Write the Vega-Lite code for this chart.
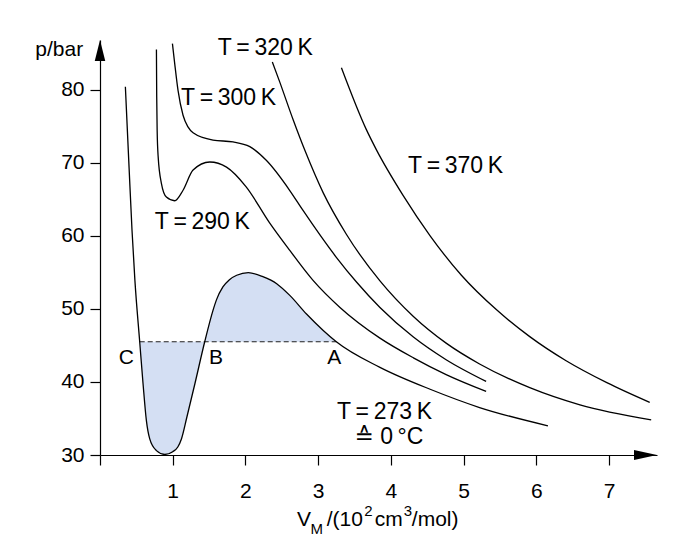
{
  "$schema": "https://vega.github.io/schema/vega-lite/v6.json",
  "width": 557,
  "height": 415,
  "autosize": {"type": "none"},
  "padding": {"left": 100, "top": 40, "right": 27, "bottom": 100},
  "background": "white",
  "config": {"view": {"stroke": null}, "font": "Liberation Sans, DejaVu Sans, sans-serif"},
  "datasets": {
    "curves": [
      {"T": 273, "V": 0.349, "p": 80.4}, {"T": 273, "V": 0.40, "p": 69.3}, {"T": 273, "V": 0.44, "p": 60.8}, {"T": 273, "V": 0.48, "p": 53.9}, {"T": 273, "V": 0.546, "p": 45.5}, {"T": 273, "V": 0.592, "p": 39.75}, {"T": 273, "V": 0.638, "p": 34.7}, {"T": 273, "V": 0.684, "p": 32.2}, {"T": 273, "V": 0.776, "p": 30.6}, {"T": 273, "V": 0.89, "p": 30.07}, {"T": 273, "V": 1.0, "p": 30.45}, {"T": 273, "V": 1.07, "p": 31.1}, {"T": 273, "V": 1.12, "p": 32.2}, {"T": 273, "V": 1.195, "p": 35.2}, {"T": 273, "V": 1.305, "p": 39.75}, {"T": 273, "V": 1.44, "p": 45.5}, {"T": 273, "V": 1.554, "p": 49.8}, {"T": 273, "V": 1.60, "p": 51.2}, {"T": 273, "V": 1.69, "p": 53.0}, {"T": 273, "V": 1.78, "p": 54.0}, {"T": 273, "V": 1.88, "p": 54.6}, {"T": 273, "V": 2.04, "p": 54.96}, {"T": 273, "V": 2.24, "p": 54.4}, {"T": 273, "V": 2.43, "p": 53.45}, {"T": 273, "V": 2.61, "p": 51.85}, {"T": 273, "V": 2.84, "p": 49.3}, {"T": 273, "V": 3.07, "p": 47.05}, {"T": 273, "V": 3.25, "p": 45.5}, {"T": 273, "V": 3.85, "p": 42.0}, {"T": 273, "V": 4.54, "p": 39.0}, {"T": 273, "V": 5.22, "p": 36.5}, {"T": 273, "V": 6.16, "p": 34.0},
      {"T": 290, "V": 0.776, "p": 85.5}, {"T": 290, "V": 0.780, "p": 79.0}, {"T": 290, "V": 0.786, "p": 74.4}, {"T": 290, "V": 0.80, "p": 70.8}, {"T": 290, "V": 0.845, "p": 67.15}, {"T": 290, "V": 0.913, "p": 65.3}, {"T": 290, "V": 1.027, "p": 64.8}, {"T": 290, "V": 1.14, "p": 66.2}, {"T": 290, "V": 1.28, "p": 69.0}, {"T": 290, "V": 1.51, "p": 70.1}, {"T": 290, "V": 1.74, "p": 69.4}, {"T": 290, "V": 2.01, "p": 66.7}, {"T": 290, "V": 2.33, "p": 61.8}, {"T": 290, "V": 2.61, "p": 58.0}, {"T": 290, "V": 2.93, "p": 53.9}, {"T": 290, "V": 3.3, "p": 50.2}, {"T": 290, "V": 3.85, "p": 46.0}, {"T": 290, "V": 4.31, "p": 43.3}, {"T": 290, "V": 4.76, "p": 41.0}, {"T": 290, "V": 5.31, "p": 38.7},
      {"T": 300, "V": 0.996, "p": 86.3}, {"T": 300, "V": 1.027, "p": 83.6}, {"T": 300, "V": 1.073, "p": 79.9}, {"T": 300, "V": 1.142, "p": 76.5}, {"T": 300, "V": 1.21, "p": 74.9}, {"T": 300, "V": 1.28, "p": 74.1}, {"T": 300, "V": 1.554, "p": 73.1}, {"T": 300, "V": 1.83, "p": 72.85}, {"T": 300, "V": 2.06, "p": 72.2}, {"T": 300, "V": 2.29, "p": 70.3}, {"T": 300, "V": 2.61, "p": 66.2}, {"T": 300, "V": 2.79, "p": 63.5}, {"T": 300, "V": 3.25, "p": 57.06}, {"T": 300, "V": 3.53, "p": 53.64}, {"T": 300, "V": 3.85, "p": 50.19}, {"T": 300, "V": 4.31, "p": 46.14}, {"T": 300, "V": 4.76, "p": 43.04}, {"T": 300, "V": 5.31, "p": 40.07},
      {"T": 320, "V": 2.37, "p": 83.8}, {"T": 320, "V": 2.47, "p": 81.1}, {"T": 320, "V": 2.655, "p": 75.92}, {"T": 320, "V": 2.82, "p": 71.63}, {"T": 320, "V": 3.07, "p": 65.88}, {"T": 320, "V": 3.39, "p": 60.18}, {"T": 320, "V": 3.85, "p": 53.83}, {"T": 320, "V": 4.31, "p": 48.96}, {"T": 320, "V": 4.76, "p": 45.31}, {"T": 320, "V": 5.22, "p": 42.46}, {"T": 320, "V": 5.91, "p": 39.22}, {"T": 320, "V": 6.60, "p": 36.87}, {"T": 320, "V": 7.58, "p": 34.81},
      {"T": 370, "V": 3.32, "p": 83.0}, {"T": 370, "V": 3.66, "p": 74.6}, {"T": 370, "V": 3.80, "p": 71.8}, {"T": 370, "V": 4.17, "p": 65.5}, {"T": 370, "V": 4.54, "p": 60.0}, {"T": 370, "V": 4.97, "p": 54.6}, {"T": 370, "V": 5.45, "p": 49.9}, {"T": 370, "V": 5.91, "p": 46.2}, {"T": 370, "V": 6.41, "p": 42.9}, {"T": 370, "V": 6.97, "p": 39.9}, {"T": 370, "V": 7.56, "p": 37.2}
    ],
    "tie": [{"V": 0.546, "p": 45.5}, {"V": 3.25, "p": 45.5}],
    "labels": [
      {"label": "T\u2009=\u2009320\u2009K", "V": 2.272, "p": 84.73},
      {"label": "T\u2009=\u2009300\u2009K", "V": 1.768, "p": 77.88},
      {"label": "T\u2009=\u2009290\u2009K", "V": 1.406, "p": 60.99},
      {"label": "T\u2009=\u2009370\u2009K", "V": 4.89, "p": 68.6},
      {"label": "T\u2009=\u2009273\u2009K", "V": 3.912, "p": 34.96},
      {"label": "\u2259 0\u2009\u00b0C", "V": 3.974, "p": 31.44}
    ],
    "points": [
      {"label": "C", "V": 0.363, "p": 42.49},
      {"label": "B", "V": 1.596, "p": 42.49},
      {"label": "A", "V": 3.22, "p": 42.4}
    ],
    "ylabel": [{"label": "p/bar", "V": -0.231, "p": 84.59}],
    "xtitle_big": [
      {"label": "V", "V": 2.71, "p": 20.34},
      {"label": "/(10", "V": 3.118, "p": 20.34},
      {"label": "cm", "V": 3.779, "p": 20.34},
      {"label": "/mol)", "V": 4.288, "p": 20.34}
    ],
    "xtitle_small": [
      {"label": "M", "V": 2.895, "p": 19.25},
      {"label": "2", "V": 3.634, "p": 21.7},
      {"label": "3", "V": 4.178, "p": 21.7}
    ],
    "yarrow": [{"V": 0, "p": 86.8}],
    "xarrow": [{"V": 7.66, "p": 30}]
  },
  "encoding": {
    "x": {
      "field": "V", "type": "quantitative",
      "scale": {"domain": [0, 7.66], "nice": false, "zero": false},
      "axis": {
        "values": [0, 1, 2, 3, 4, 5, 6, 7],
        "labelExpr": "datum.value == 0 ? '' : datum.label",
        "title": null, "grid": false, "tickSize": 10, "tickWidth": 1.2, "domainWidth": 1.2,
        "tickColor": "black", "domainColor": "black", "labelColor": "black",
        "labelFont": "Liberation Sans", "labelFontSize": 21, "labelPadding": 15,
        "labelFlush": false, "labelOverlap": false
      }
    },
    "y": {
      "field": "p", "type": "quantitative",
      "scale": {"domain": [30, 86.8], "nice": false, "zero": false},
      "axis": {
        "values": [30, 40, 50, 60, 70, 80],
        "title": null, "grid": false, "tickSize": 10, "tickWidth": 1.2, "domainWidth": 1.2,
        "tickColor": "black", "domainColor": "black", "labelColor": "black",
        "labelFont": "Liberation Sans", "labelFontSize": 21, "labelPadding": 6,
        "labelFlush": false, "labelOverlap": false
      }
    }
  },
  "layer": [
    {
      "data": {"name": "curves"},
      "transform": [{"filter": "datum.T == 273 && datum.V >= 0.546 && datum.V <= 3.25"}],
      "mark": {"type": "area", "interpolate": "monotone", "color": "#d4dff3", "opacity": 1},
      "encoding": {"y2": {"datum": 45.5}}
    },
    {
      "data": {"name": "tie"},
      "mark": {"type": "line", "color": "#222222", "strokeWidth": 1.1, "strokeDash": [5, 3]},
      "encoding": {}
    },
    {
      "data": {"name": "curves"},
      "mark": {"type": "line", "interpolate": "monotone", "color": "black", "strokeWidth": 1.3},
      "encoding": {"detail": {"field": "T", "type": "nominal"}}
    },
    {
      "data": {"name": "labels"},
      "mark": {"type": "text", "font": "Liberation Sans, DejaVu Sans", "fontSize": 23, "align": "center", "baseline": "alphabetic", "color": "black"},
      "encoding": {"text": {"field": "label"}}
    },
    {
      "data": {"name": "points"},
      "mark": {"type": "text", "font": "Liberation Sans", "fontSize": 21, "align": "center", "baseline": "alphabetic", "color": "black"},
      "encoding": {"text": {"field": "label"}}
    },
    {
      "data": {"name": "ylabel"},
      "mark": {"type": "text", "font": "Liberation Sans", "fontSize": 21, "align": "right", "baseline": "alphabetic", "color": "black"},
      "encoding": {"text": {"field": "label"}}
    },
    {
      "data": {"name": "xtitle_big"},
      "mark": {"type": "text", "font": "Liberation Sans", "fontSize": 21, "align": "left", "baseline": "alphabetic", "color": "black"},
      "encoding": {"text": {"field": "label"}}
    },
    {
      "data": {"name": "xtitle_small"},
      "mark": {"type": "text", "font": "Liberation Sans", "fontSize": 15, "align": "left", "baseline": "alphabetic", "color": "black"},
      "encoding": {"text": {"field": "label"}}
    },
    {
      "data": {"name": "yarrow"},
      "mark": {"type": "point", "shape": "M0,0L0.25,1L-0.25,1Z", "size": 1764, "filled": true, "color": "black", "opacity": 1},
      "encoding": {}
    },
    {
      "data": {"name": "xarrow"},
      "mark": {"type": "point", "shape": "M0,0L-1,0.22L-1,-0.22Z", "size": 2116, "filled": true, "color": "black", "opacity": 1},
      "encoding": {}
    }
  ]
}
